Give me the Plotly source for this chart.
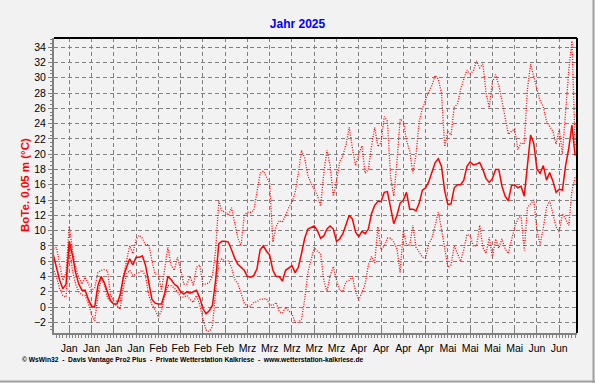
import pandas as pd
import plotly.graph_objects as go

# ---------------- data ----------------
start_date = "2025-01-01"

mean_temp = [
    6.8, 5.2, 3.5, 2.4, 3.0, 8.6, 6.8, 4.5, 3.0, 2.2,
    2.2, 1.0, 0.1, 0.0, 2.8, 4.0, 3.2, 2.0, 0.8, 0.4,
    0.4, 1.6, 3.9, 5.2, 6.3, 5.5, 6.5, 6.5, 6.7, 5.4,
    3.0, 1.0, 0.5, 0.4, 0.4, 1.8, 4.0, 3.6, 3.0, 2.7,
    2.0, 1.7, 2.0, 1.8, 2.0, 2.2, 1.2, -0.2, -0.9, -0.5,
    0.2, 3.5, 8.3, 8.6, 8.6, 8.5, 7.5, 6.4, 5.6, 5.2,
    4.8, 4.0, 3.9, 4.1, 5.0, 7.5, 8.0, 7.3, 6.8, 4.8,
    4.0, 4.0, 3.4, 4.8, 5.1, 5.4, 4.5, 5.2, 7.0, 9.0,
    10.2, 10.4, 10.6, 10.0, 9.0, 9.3, 10.2, 10.6, 10.2, 8.6,
    8.9, 9.6, 10.8, 12.0, 11.5, 9.8, 9.2, 9.9, 9.6, 10.2,
    12.2, 13.3, 13.8, 13.8, 15.0, 15.1, 13.0, 10.9, 12.0, 13.6,
    14.0, 15.0, 12.8, 12.8, 12.6, 13.6, 15.3, 15.6, 16.4, 17.8,
    18.9, 19.4, 18.4, 15.2, 13.4, 13.5, 15.6, 16.0, 16.0, 16.6,
    18.4, 19.0, 18.6, 18.7, 18.9, 18.0, 16.8, 16.3, 16.8, 18.0,
    18.0, 15.8, 14.5, 13.9, 15.9, 16.0, 15.6, 15.8, 14.5, 18.5,
    22.5, 21.4, 18.0, 17.5, 18.5, 16.6, 17.6, 16.5, 15.0, 15.4,
    15.3, 18.5, 20.8, 23.8, 19.8,
]

max_temp = [
    7.6, 7.8, 5.5, 3.5, 4.5, 10.6, 7.5, 5.2, 3.9, 3.0,
    3.9, 3.0, 2.2, 2.5, 4.5, 4.8, 4.9, 4.8, 1.5, 0.8,
    0.7, 0.7, 4.0, 6.0, 8.0, 7.0, 8.8, 9.4, 9.0, 8.1,
    8.2, 6.0, 4.3, 4.3, 2.2, 5.0, 7.8, 5.5, 4.8, 6.5,
    5.0, 3.0, 3.0, 4.0, 2.8, 5.2, 5.5, 3.0, 3.0, 3.2,
    4.0, 7.4, 13.9, 12.5, 12.5, 12.0, 13.0, 11.0, 9.0, 8.0,
    12.0, 12.4, 12.4, 12.6, 15.0, 17.5, 17.8, 17.0, 16.2, 8.5,
    10.5, 11.3, 11.1, 12.0, 13.0, 13.7, 15.0, 17.5, 20.5, 19.5,
    17.2, 16.2, 15.4, 14.6, 13.2, 17.5, 20.5, 18.5, 14.5, 16.5,
    19.0, 19.8, 21.3, 23.5, 20.8, 18.5, 20.0, 21.1, 17.5, 18.0,
    21.0, 23.5, 21.0, 21.5, 24.9, 24.3, 17.0, 14.5, 19.0, 24.6,
    24.3, 21.8, 20.4, 17.5, 20.0, 24.3, 26.0, 27.1, 28.2, 29.0,
    30.3, 29.8, 28.0, 21.0, 23.0, 22.5, 26.2, 26.5, 28.5, 29.8,
    31.0, 30.5, 30.9, 32.2, 31.3, 31.8, 28.0, 26.1, 29.5, 30.4,
    29.0, 27.0, 24.8, 22.6, 23.0, 23.3, 20.6, 21.5, 21.3, 28.5,
    31.8, 30.0, 28.5, 27.0, 26.2, 24.3, 23.6, 23.0, 21.3, 23.3,
    20.0, 26.0, 31.0, 34.8, 21.0,
]

min_temp = [
    5.0, 3.9, 2.4, 1.5, 1.3, 8.0, 4.8, 3.0, 2.0, 1.6,
    1.5, 0.5, -1.0, -1.8, 1.5, 3.8, 3.0, 1.2, 0.8, 0.4,
    0.2, -0.3, 2.5, 4.3, 4.8, 4.1, 4.3, 4.6, 4.8, 4.0,
    1.5, 0.3, -0.4, -1.3, -0.5, 1.5, 2.8, 2.8, 2.5, 2.0,
    1.3, 1.3, 1.5, 1.0, 0.6, 1.5, 0.3, -1.5, -3.0, -3.2,
    -2.6, 2.0, 5.7, 6.3, 6.0, 6.0, 5.2, 3.6, 3.1, 1.8,
    0.5, 0.1, 0.1, 0.6, 0.7, 1.0, 1.1, 1.1, 0.3, 0.2,
    0.6, -0.6, -0.8, 0.0, -0.5, -0.9, -2.0, -2.0, -1.6, 1.0,
    4.5, 6.3, 7.8, 7.3, 7.0, 3.5, 2.0, 4.1, 5.3, 3.5,
    2.2, 2.1, 3.3, 3.5, 4.0, 2.0, 0.9, 1.9, 3.0, 5.5,
    6.6, 5.8, 10.5, 7.5, 8.0, 9.0, 9.0, 8.5, 7.6, 4.5,
    10.0, 8.2, 8.0, 10.7, 7.8, 7.2, 6.5, 6.4, 8.3, 9.0,
    10.6, 12.4, 10.2, 7.8, 5.2, 5.5, 8.0, 7.0, 6.0, 7.5,
    9.5, 9.3, 8.0, 8.0, 10.7, 7.8, 7.0, 9.1, 6.5, 8.9,
    7.7, 8.9, 7.6, 7.0, 8.7, 10.5, 11.5, 12.0, 7.4, 13.0,
    13.5, 14.0, 10.0, 8.2, 10.4, 13.0, 13.9, 12.2, 10.5, 9.8,
    12.2, 11.5, 10.7, 15.2, 17.0,
]

tick_dates = pd.date_range("2025-01-06", "2025-06-09", freq="7D")
month_names = {1: "Jan", 2: "Feb", 3: "Mrz", 4: "Apr", 5: "Mai", 6: "Jun"}
tick_labels = [month_names[d.month] for d in tick_dates]

title_text = "Jahr 2025"
y_title = "BoTe. 0,05 m (°C)"
credit_text = ("© WsWin32  -  Davis Vantage Pro2 Plus  -  Private Wetterstation Kalkriese"
               "  -  www.wetterstation-kalkriese.de")

dates = pd.date_range(start_date, periods=len(mean_temp), freq="D")

# ---------------- figure ----------------
W, H = 595, 383
L, R, T, B = 54, 18, 38, 50
BG = "#f2f2f2"
FONT = "Liberation Sans, Arial, sans-serif"

fig = go.Figure()
fig.add_trace(go.Scatter(x=dates, y=max_temp, mode="lines",
                         line=dict(color="#ff0000", width=1.3, dash="1px,1.5px"),
                         showlegend=False, hoverinfo="skip"))
fig.add_trace(go.Scatter(x=dates, y=min_temp, mode="lines",
                         line=dict(color="#ff0000", width=1.3, dash="1px,1.5px"),
                         showlegend=False, hoverinfo="skip"))
fig.add_trace(go.Scatter(x=dates, y=mean_temp, mode="lines",
                         line=dict(color="#ff0000", width=1.5),
                         showlegend=False, hoverinfo="skip"))

fig.update_layout(
    width=W, height=H, autosize=False,
    margin=dict(l=L, r=R, t=T, b=B, pad=0),
    paper_bgcolor=BG, plot_bgcolor=BG,
    font=dict(family=FONT, color="#000000", size=11),
    title=dict(text="<b>" + title_text + "</b>", x=0.5, xref="container", xanchor="center",
               y=1 - 24 / H, yref="container", yanchor="middle",
               font=dict(family=FONT, size=12, color="#0000ff")),
    showlegend=False,
)

fig.update_xaxes(
    type="date",
    range=["2025-01-01 05:00", "2025-06-14 14:00"],
    tickmode="array", tickvals=tick_dates, ticktext=tick_labels,
    showgrid=True, gridcolor="#808080", gridwidth=1, griddash="4px,3px",
    zeroline=False,
    showline=True, linecolor="#808080", linewidth=2,
    ticks="inside", ticklen=4, tickcolor="#808080", tickwidth=1,
    tickfont=dict(family=FONT, size=10.5, color="#000000"),
    ticklabelstandoff=4,
    minor=dict(ticks="outside", ticklen=3, tickcolor="#808080", tickwidth=1,
               dtick=86400000, tick0="2025-01-01", showgrid=False),
)

fig.update_yaxes(
    range=[-3.4, 35.2],
    tick0=0, dtick=2,
    showgrid=True, gridcolor="#808080", gridwidth=1, griddash="4px,3px",
    zeroline=False,
    showline=True, linecolor="#808080", linewidth=2,
    ticks="outside", ticklen=4, tickcolor="#808080", tickwidth=1,
    tickfont=dict(family=FONT, size=10.5, color="#000000"),
    minor=dict(ticks="outside", ticklen=2, tickcolor="#808080", tickwidth=1,
               dtick=0.5, showgrid=False),
)

# black top / right frame
fig.add_shape(type="line", xref="x domain", yref="y domain", x0=0, x1=1, y0=1, y1=1,
              line=dict(color="#000000", width=2))
fig.add_shape(type="line", xref="x domain", yref="y domain", x0=1, x1=1, y0=0, y1=1,
              line=dict(color="#000000", width=2))

# outer image frame (bottom / right)
pw, ph = W - L - R, H - T - B
fig.add_shape(type="line", xref="paper", yref="paper",
              x0=-L / pw, x1=(W - L) / pw, y0=-(B - 1.5) / ph, y1=-(B - 1.5) / ph,
              line=dict(color="#a0a0a0", width=2))
fig.add_shape(type="line", xref="paper", yref="paper",
              x0=(W - L - 1.5) / pw, x1=(W - L - 1.5) / pw, y0=-B / ph, y1=(ph + T) / ph,
              line=dict(color="#a0a0a0", width=2))

# y-axis title
fig.add_annotation(text="<b>" + y_title + "</b>", xref="paper", yref="paper",
                   x=(25 - L) / pw, y=(H - B - 185) / ph, textangle=-90,
                   showarrow=False, xanchor="center", yanchor="middle",
                   font=dict(family=FONT, size=11.5, color="#ff0000"))

# credits line
fig.add_annotation(text="<b>" + credit_text + "</b>", xref="paper", yref="paper",
                   x=(20 - L) / pw, y=-(360 - (H - B)) / ph, showarrow=False,
                   xanchor="left", yanchor="middle",
                   font=dict(family=FONT, size=6.7, color="#000000"))

fig.write_html(
    "out.html",
    config={"displayModeBar": False},
    post_script="document.body.style.margin='0';document.body.style.background='#f2f2f2';",
)
